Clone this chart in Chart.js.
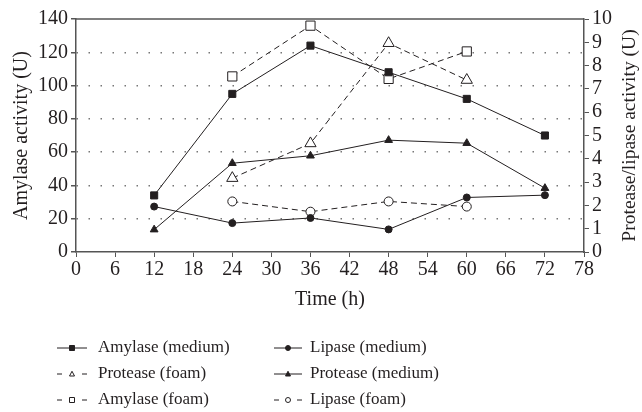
<!DOCTYPE html>
<html>
<head>
<meta charset="utf-8">
<script src="https://cdn.jsdelivr.net/npm/chart.js@4.4.0/dist/chart.umd.min.js"></script>
<style>
  html, body { margin: 0; padding: 0; background: #fff; }
  #wrap { width: 642px; height: 412px; position: relative; }
</style>
</head>
<body>
<div id="wrap"><canvas id="chart"></canvas></div>
<script>
const hours = [12, 24, 36, 48, 60, 72];
const xTicks = [0, 6, 12, 18, 24, 30, 36, 42, 48, 54, 60, 66, 72, 78];

// amylase on left axis (U)
const amylaseMedium = [34, 95, 124, 108, 92, 70];
const amylaseFoam   = [null, 105.5, 136, 104, 120.5, null];
// protease / lipase on right axis (U)
const proteaseFoam   = [null, 3.17, 4.66, 8.96, 7.38, null];
const proteaseMedium = [0.96, 3.81, 4.13, 4.8, 4.67, 2.74];
const lipaseMedium   = [1.95, 1.24, 1.46, 0.97, 2.34, 2.44];
const lipaseFoam     = [null, 2.17, 1.73, 2.17, 1.95, null];

const INK = '#231f20';
const FONT = "'Liberation Serif', 'DejaVu Serif', serif";
const rightTitle = 'Protease/lipase activity (U)';

function pts(vals) {
  return hours.map((h, i) => ({ x: h, y: vals[i] })).filter(p => p.y != null);
}

function series(label, vals, axis, style, filled, radius, dashed) {
  return {
    label,
    data: pts(vals),
    yAxisID: axis,
    borderColor: INK,
    borderWidth: 1,
    borderDash: dashed ? [6, 4] : [],
    pointStyle: style,
    pointRadius: radius,
    pointBorderWidth: 1,
    pointBorderColor: INK,
    pointBackgroundColor: filled ? INK : '#fff',
    tension: 0,
  };
}

const datasets = [
  series('Amylase (medium)', amylaseMedium, 'y', 'rect', true, 5, false),
  series('Lipase (medium)', lipaseMedium, 'y2', 'circle', true, 3.5, false),
  series('Protease (foam)', proteaseFoam, 'y2', 'triangle', false, 6.5, true),
  series('Protease (medium)', proteaseMedium, 'y2', 'triangle', true, 4.5, false),
  series('Amylase (foam)', amylaseFoam, 'y', 'rect', false, 6.5, true),
  series('Lipase (foam)', lipaseFoam, 'y2', 'circle', false, 4.5, true),
];

function marker(ctx, style, filled, x, y, r) {
  ctx.beginPath();
  if (style === 'rect') {
    ctx.rect(x - r, y - r, 2 * r, 2 * r);
  } else if (style === 'circle') {
    ctx.arc(x, y, r, 0, Math.PI * 2);
  } else {
    ctx.moveTo(x, y - r * 1.1);
    ctx.lineTo(x + r, y + r * 0.8);
    ctx.lineTo(x - r, y + r * 0.8);
    ctx.closePath();
  }
  ctx.fillStyle = filled ? INK : '#fff';
  ctx.fill();
  ctx.lineWidth = 1;
  ctx.strokeStyle = INK;
  ctx.stroke();
}

const extras = {
  id: 'extras',
  afterDraw(chart) {
    const ctx = chart.ctx;
    const a = chart.chartArea;
    ctx.save();
    // top frame line
    ctx.strokeStyle = '#555';
    ctx.lineWidth = 1.5;
    ctx.beginPath();
    ctx.moveTo(a.left, a.top);
    ctx.lineTo(a.right, a.top);
    ctx.stroke();

    // right axis title, reading bottom to top
    ctx.save();
    ctx.translate(630, (a.top + a.bottom) / 2);
    ctx.rotate(-Math.PI / 2);
    ctx.font = '19.5px ' + FONT;
    ctx.fillStyle = INK;
    ctx.textAlign = 'center';
    ctx.textBaseline = 'middle';
    ctx.fillText(rightTitle, 0, 0);
    ctx.restore();

    // two-column legend
    const cols = [{ x0: 57, x1: 87, tx: 98 }, { x0: 274, x1: 302, tx: 310 }];
    const rows = [348, 374, 400];
    ctx.font = '17px ' + FONT;
    ctx.textBaseline = 'middle';
    chart.data.datasets.forEach((ds, i) => {
      const c = cols[i % 2], y = rows[Math.floor(i / 2)];
      const mid = (c.x0 + c.x1) / 2;
      ctx.strokeStyle = INK;
      ctx.lineWidth = 1;
      ctx.beginPath();
      if (ds.borderDash.length) {
        ctx.moveTo(c.x0, y); ctx.lineTo(c.x0 + 5, y);
        ctx.moveTo(c.x1 - 5, y); ctx.lineTo(c.x1, y);
      } else {
        ctx.moveTo(c.x0, y); ctx.lineTo(c.x1, y);
      }
      ctx.stroke();
      marker(ctx, ds.pointStyle, ds.pointBackgroundColor !== '#fff', mid, y, 2.5);
      ctx.fillStyle = INK;
      ctx.fillText(ds.label, c.tx, y);
    });
    ctx.restore();
  }
};

const tickFont = { family: FONT, size: 20 };

new Chart(document.getElementById('chart'), {
  type: 'line',
  data: { datasets },
  plugins: [extras],
  options: {
    responsive: true,
    maintainAspectRatio: false,
    animation: false,
    layout: { padding: { top: 19, bottom: 100, left: 0, right: 0 } },
    plugins: { legend: { display: false }, tooltip: { enabled: false } },
    scales: {
      x: {
        type: 'linear',
        min: 0, max: 78,
        afterBuildTicks: s => { s.ticks = xTicks.map(v => ({ value: v })); },
        afterFit: s => { s.height = 60; },
        ticks: { color: INK, font: tickFont, padding: 1, maxRotation: 0, autoSkip: false },
        grid: { drawOnChartArea: false, tickLength: 5, tickColor: '#555' },
        border: { color: '#555', width: 1.5 },
        title: { display: true, text: 'Time (h)', color: INK, font: tickFont, padding: 0 },
      },
      y: {
        position: 'left',
        min: 0, max: 140,
        afterFit: s => { s.width = 76; },
        ticks: { stepSize: 20, color: INK, font: tickFont, padding: 3, autoSkip: false },
        grid: {
          color: c => (c.tick.value > 0 && c.tick.value < 140) ? '#777' : 'rgba(0,0,0,0)',
          tickColor: '#555',
          tickLength: 5,
          lineWidth: 1.5,
        },
        border: { color: '#555', width: 1.5, dash: [1.5, 10.5] },
        title: { display: true, text: 'Amylase activity (U)', color: INK, font: tickFont, padding: { top: 10, bottom: 0 } },
      },
      y2: {
        position: 'right',
        min: 0, max: 10,
        afterFit: s => { s.width = 58; },
        ticks: { stepSize: 1, color: INK, font: tickFont, padding: 3, autoSkip: false },
        grid: { drawOnChartArea: false, tickLength: 5, tickColor: '#555' },
        border: { color: '#555', width: 1.5 },
      },
    },
  },
});
</script>
</body>
</html>
